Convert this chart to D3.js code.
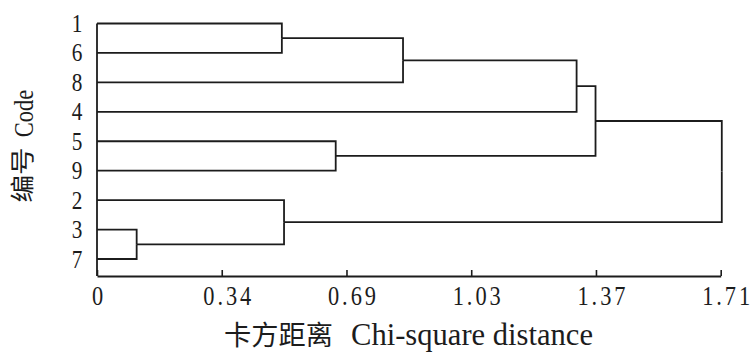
<!DOCTYPE html>
<html><head><meta charset="utf-8">
<script src="https://cdn.jsdelivr.net/npm/d3@7"></script>
<style>body{margin:0;background:#fff} svg{display:block}
.serif{font-family:"Liberation Serif","DejaVu Serif","Noto Serif","Tinos","FreeSerif","Times New Roman",Times,serif}
.cjk{font-family:"Noto Sans CJK SC","Noto Sans CJK JP",sans-serif}
</style>
</head><body>
<script>
// ---- data ----
const leaves = ["1","6","8","4","5","9","2","3","7"];
const mergeIds    = ["A","B","C","D","E","F","G","R"];
const mergeLeft   = ["1","A","B","5","C","3","2","E"];
const mergeRight  = ["6","8","4","9","D","7","F","G"];
const mergeHeight = [0.508,0.841,1.318,0.656,1.370,0.109,0.514,1.717];
const xMax = 1.714;
const tickLabels = ["0","0.34","0.69","1.03","1.37","1.71"];
const xTitleCN = "卡方距离", xTitleEN = "Chi-square distance";
const yTitleCN = "编号", yTitleEN = "Code";

// ---- setup ----
const W = 752, H = 352, ink = "#1c1c1c";
const svg = d3.select("body").append("svg").attr("width", W).attr("height", H);
const x = d3.scaleLinear().domain([0, xMax]).range([97, 720.7]);
const y = d3.scalePoint().domain(leaves).range([23.5, 259]);
const axisY = 276;

// ---- tree ----
const nodes = {};
leaves.forEach(id => nodes[id] = {id, h: 0});
mergeIds.forEach((id, i) => nodes[id] = {id, h: mergeHeight[i],
  children: [nodes[mergeLeft[i]], nodes[mergeRight[i]]]});
const root = d3.hierarchy(nodes["R"]);
root.eachAfter(n => {
  n.px = x(n.data.h);
  n.py = n.children ? d3.mean(n.children, c => c.py) : y(n.data.id);
});

svg.append("g").selectAll("path")
  .data(root.descendants().filter(n => n.parent))
  .join("path")
  .attr("d", n => `M${n.px},${n.py}H${n.parent.px}V${n.parent.py}`)
  .attr("fill", "none").attr("stroke", ink).attr("stroke-width", 1.8);

// y axis line
svg.append("line")
  .attr("x1", x(0)).attr("x2", x(0))
  .attr("y1", y(leaves[0])).attr("y2", axisY)
  .attr("stroke", ink).attr("stroke-width", 1.8);

// x axis
const tickVals = tickLabels.map((_, i) => i * xMax / (tickLabels.length - 1));
const ax = d3.axisBottom(x).tickValues(tickVals)
  .tickFormat((d, i) => tickLabels[i]).tickSizeInner(-6).tickSizeOuter(0);
const g = svg.append("g").attr("transform", `translate(0,${axisY})`).call(ax)
  .attr("font-family", null).attr("font-size", null);
g.select(".domain").attr("stroke", ink).attr("stroke-width", 1.8);
g.selectAll(".tick line").attr("stroke", ink).attr("stroke-width", 1.6);
g.selectAll(".tick text")
  .attr("class", "serif")
  .attr("y", 29).attr("dy", null)
  .attr("font-size", 28).attr("fill", ink)
  .attr("transform", "scale(0.8,1)")
  .attr("x", (d, i) => i ? 5 / 0.8 : 0)
  .attr("textLength", (d, i) => i ? 48 / 0.8 : null)
  .attr("lengthAdjust", "spacing");

// leaf labels
svg.append("g").selectAll("text").data(leaves).join("text")
  .attr("class", "serif")
  .attr("transform", d => `translate(77,${y(d) + 8.5}) scale(0.85,1)`)
  .attr("text-anchor", "middle")
  .attr("font-size", 25).attr("fill", ink)
  .text(d => d);

// y title
svg.append("text").attr("class", "cjk")
  .attr("transform", "translate(31,175) rotate(-90) scale(1.15,1)")
  .attr("text-anchor", "middle")
  .attr("font-size", 24).attr("fill", ink)
  .text(yTitleCN);
svg.append("text").attr("class", "serif")
  .attr("transform", "translate(33,113.5) rotate(-90) scale(0.8,1)")
  .attr("text-anchor", "middle")
  .attr("font-size", 28).attr("fill", ink)
  .text(yTitleEN);

// x title
svg.append("text").attr("class", "cjk")
  .attr("x", 224).attr("y", 344.5)
  .attr("font-size", 27).attr("fill", ink)
  .attr("textLength", 109).attr("lengthAdjust", "spacingAndGlyphs")
  .text(xTitleCN);
svg.append("text").attr("class", "serif")
  .attr("x", 351).attr("y", 345)
  .attr("font-size", 31).attr("fill", ink)
  .attr("textLength", 242).attr("lengthAdjust", "spacingAndGlyphs")
  .text(xTitleEN);
</script>
</body></html>
